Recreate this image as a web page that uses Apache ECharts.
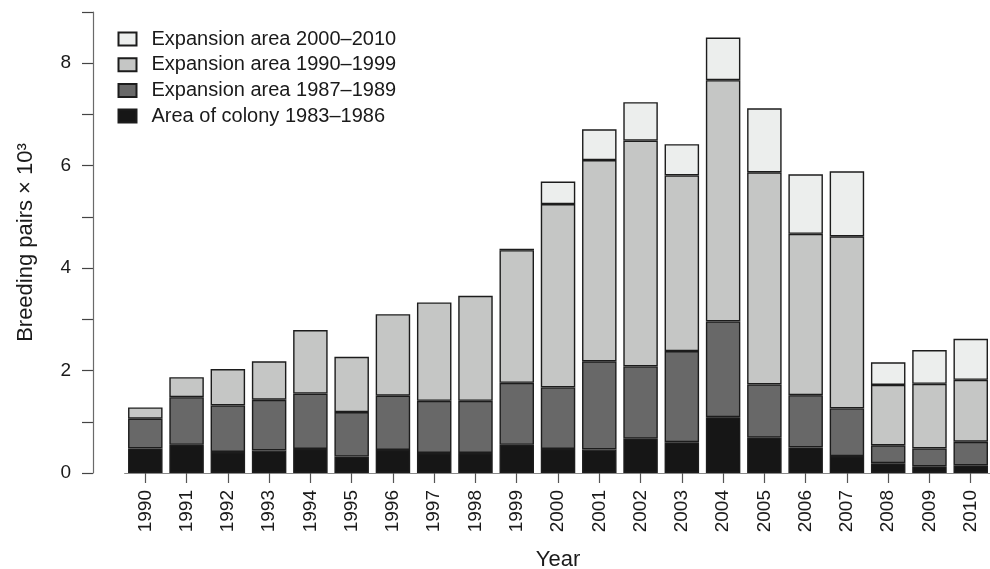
<!DOCTYPE html>
<html>
<head>
<meta charset="utf-8">
<script src="https://cdn.jsdelivr.net/npm/echarts@6/dist/echarts.min.js"></script>
<style>
  html, body { margin: 0; padding: 0; background: #fff; }
  #chart { width: 990px; height: 569px; }
</style>
</head>
<body>
<div id="chart"></div>
<script>
const years = ['1990','1991','1992','1993','1994','1995','1996','1997','1998','1999','2000','2001','2002','2003','2004','2005','2006','2007','2008','2009','2010'];
const colony8386 = [0.48,0.55,0.41,0.44,0.47,0.32,0.45,0.39,0.39,0.55,0.47,0.46,0.67,0.60,1.09,0.69,0.50,0.33,0.19,0.13,0.15];
const exp8789 = [0.58,0.93,0.91,0.99,1.08,0.87,1.06,1.02,1.02,1.21,1.20,1.72,1.41,1.78,1.87,1.04,1.02,0.93,0.35,0.35,0.46];
const exp9099 = [0.22,0.39,0.71,0.75,1.24,1.08,1.59,1.92,2.05,2.59,3.58,3.93,4.41,3.43,4.71,4.14,3.15,3.36,1.18,1.26,1.21];
const exp0010 = ['-','-','-','-','-','-','-','-','-',0.03,0.44,0.60,0.75,0.61,0.83,1.25,1.16,1.27,0.44,0.66,0.80];
const seriesNames = ['Area of colony 1983–1986','Expansion area 1987–1989','Expansion area 1990–1999','Expansion area 2000–2010'];
const legendOrder = ['Expansion area 2000–2010','Expansion area 1990–1999','Expansion area 1987–1989','Area of colony 1983–1986'];
const fills = ['#161616','#686868','#c5c6c5','#eceeed'];
const yTicks = [0,2,4,6,8];

const chart = echarts.init(document.getElementById('chart'), null, {renderer: 'canvas'});
const font = 'Liberation Sans, Arial, Helvetica, sans-serif';
const dataSets = [colony8386, exp8789, exp9099, exp0010];

chart.setOption({
  animation: false,
  backgroundColor: '#ffffff',
  textStyle: { fontFamily: font },
  legend: {
    left: 112.5,
    top: 24,
    orient: 'vertical',
    icon: 'rect',
    itemWidth: 18,
    itemHeight: 13,
    itemGap: 5.7,
    data: legendOrder,
    textStyle: { fontSize: 20, color: '#1a1a1a', fontFamily: font, lineHeight: 20, padding: [0,0,0,10] }
  },
  grid: { left: 124.67, width: 866.7, top: 12, height: 461, containLabel: false, outerBoundsMode: 'none' },
  xAxis: {
    type: 'category',
    data: years,
    name: 'Year',
    nameLocation: 'middle',
    nameGap: 76,
    nameTextStyle: { fontSize: 22, color: '#1a1a1a', fontFamily: font },
    axisLine: { show: true, lineStyle: { color: '#8a8a8a', width: 1.2 } },
    axisTick: { show: true, alignWithLabel: true, length: 10, lineStyle: { color: '#555', width: 1.2 } },
    axisLabel: { rotate: 90, margin: 17, fontSize: 19, color: '#1a1a1a', fontFamily: font, interval: 0 }
  },
  yAxis: {
    type: 'value',
    min: 0,
    max: 9,
    interval: 1,
    offset: 31.7,
    name: 'Breeding pairs × 10³',
    nameLocation: 'middle',
    nameGap: 56,
    nameTextStyle: { fontSize: 22, color: '#1a1a1a', fontFamily: font },
    axisLine: { show: true, lineStyle: { color: '#6a6a6a', width: 1.2 } },
    axisTick: { show: true, length: 11, lineStyle: { color: '#444', width: 1.2 } },
    axisLabel: { margin: 22, fontSize: 19, color: '#1a1a1a', fontFamily: font,
      formatter: v => (yTicks.indexOf(v) >= 0 ? String(v) : '') },
    splitLine: { show: false }
  },
  series: seriesNames.map((n, i) => ({
    name: n,
    type: 'bar',
    stack: 'total',
    barWidth: 34.5,
    data: dataSets[i],
    itemStyle: { color: fills[i], borderColor: '#1c1c1c', borderWidth: 1.4 }
  }))
});
</script>
</body>
</html>
